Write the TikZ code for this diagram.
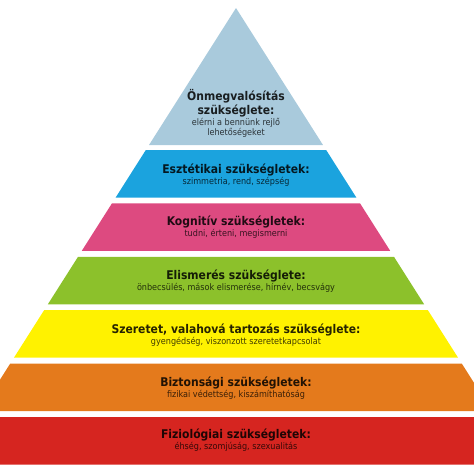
\documentclass[tikz,border=0pt]{standalone}
\usepackage{fontspec}
\setsansfont{DejaVu Sans Condensed}
\renewcommand{\familydefault}{\sfdefault}
\usetikzlibrary{positioning}

\definecolor{topblue}{HTML}{A9CADC}
\definecolor{skyblue}{HTML}{1BA3DE}
\definecolor{rosepink}{HTML}{DD4A80}
\definecolor{leafgreen}{HTML}{8CC12B}
\definecolor{lemon}{HTML}{FFF200}
\definecolor{tangerine}{HTML}{E47A1C}
\definecolor{signalred}{HTML}{D62520}

\begin{document}
\begin{tikzpicture}[
    x=1pt, y=-1pt,
    node distance=1pt,
    title/.style={font=\bfseries\fontsize{12}{13.5}\selectfont, text=black, text opacity=0.85, inner sep=0pt, align=center},
    sub/.style={font=\fontsize{9}{10.5}\selectfont, text=black, text opacity=0.75, inner sep=0pt, align=center},
]
    \useasboundingbox (0,0) rectangle (474,474);

    % pyramid layers
    \begin{scope}
        \clip (0,0) rectangle (474,474);
        \fill[topblue] (236,8) -- ({236-0.635*137},145) -- ({236+0.635*137},145) -- cycle;
        \foreach \c [count=\i from 0] in {skyblue,rosepink,leafgreen,lemon,tangerine,signalred} {
            \pgfmathsetmacro\yt{150+53.4*\i}
            \pgfmathsetmacro\yb{\yt+47.5}
            \pgfmathsetmacro\wt{0.635*(\yt-8)}
            \pgfmathsetmacro\wb{0.635*(\yb-8)}
            \fill[\c] ({236-\wt},\yt) -- ({236+\wt},\yt) -- ({236+\wb},\yb) -- ({236-\wb},\yb) -- cycle;
        }
    \end{scope}

    % labels
    \node[title] (actual) at (236,103) {Önmegvalósítás\\szükséglete:};
    \node[sub, below=of actual] (actualsub) {elérni a bennünk rejlő\\lehetőségeket};

    \node[title] (aesth) at (236,169.5) {Esztétikai szükségletek:};
    \node[sub, below=of aesth] (aesthsub) {szimmetria, rend, szépség};

    \node[title] (cogn) at (236,222) {Kognitív szükségletek:};
    \node[sub, below=of cogn] (cognsub) {tudni, érteni, megismerni};

    \node[title] (esteem) at (236,276) {Elismerés szükséglete:};
    \node[sub, below=of esteem] (esteemsub) {önbecsülés, mások elismerése, hírnév, becsvágy};

    \node[title] (love) at (236,329.5) {Szeretet, valahová tartozás szükséglete:};
    \node[sub, below=of love] (lovesub) {gyengédség, viszonzott szeretetkapcsolat};

    \node[title] (safety) at (236,382.5) {Biztonsági szükségletek:};
    \node[sub, below=of safety] (safetysub) {fizikai védettség, kiszámíthatóság};

    \node[title] (physio) at (236,435) {Fiziológiai szükségletek:};
    \node[sub, below=of physio] (physiosub) {éhség, szomjúság, szexualitás};
\end{tikzpicture}
\end{document}
